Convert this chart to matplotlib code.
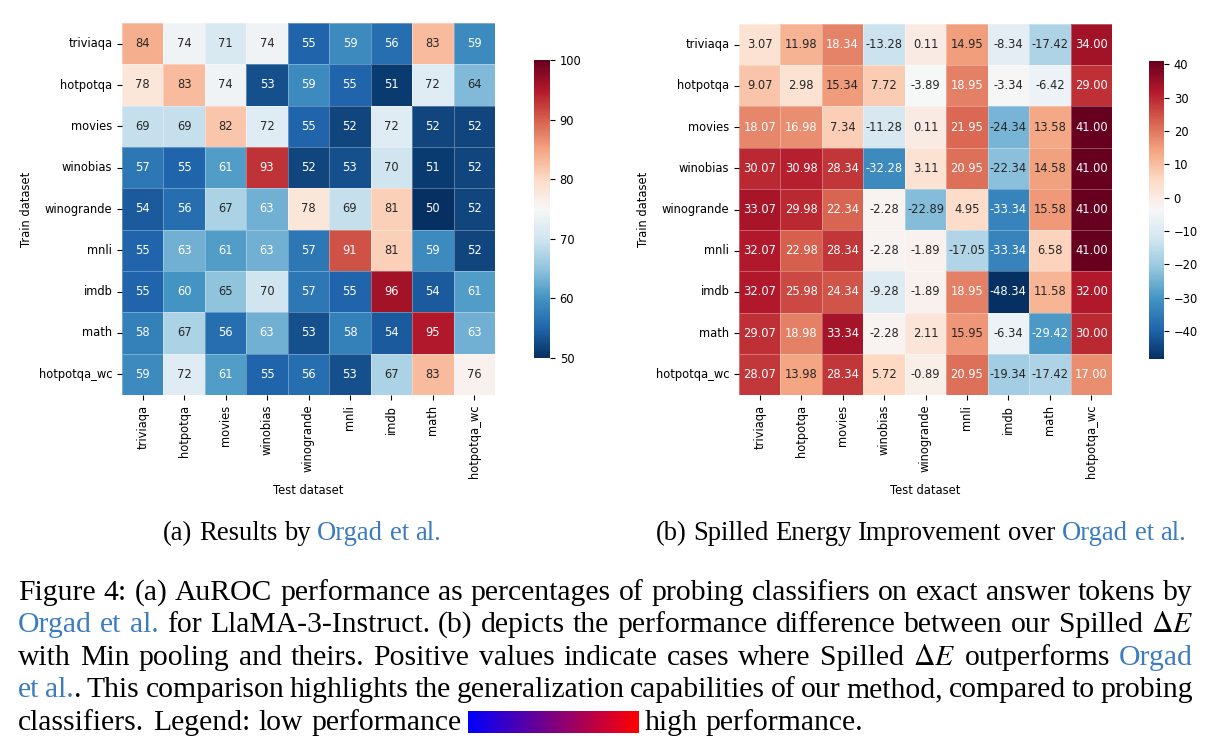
import numpy as np
import matplotlib
matplotlib.use('Agg')
import matplotlib.pyplot as plt
import seaborn as sns
from matplotlib.colors import LinearSegmentedColormap

datasets = ['triviaqa', 'hotpotqa', 'movies', 'winobias', 'winogrande',
            'mnli', 'imdb', 'math', 'hotpotqa_wc']

# AuROC of Orgad et al. (rows = train, cols = test)
orgad_auroc = [
    [84, 74, 71, 74, 55, 59, 56, 83, 59],
    [78, 83, 74, 53, 59, 55, 51, 72, 64],
    [69, 69, 82, 72, 55, 52, 72, 52, 52],
    [57, 55, 61, 93, 52, 53, 70, 51, 52],
    [54, 56, 67, 63, 78, 69, 81, 50, 52],
    [55, 63, 61, 63, 57, 91, 81, 59, 52],
    [55, 60, 65, 70, 57, 55, 96, 54, 61],
    [58, 67, 56, 63, 53, 58, 54, 95, 63],
    [59, 72, 61, 55, 56, 53, 67, 83, 76],
]

# Spilled energy improvement over Orgad et al.
improvement = [
    [3.07, 11.98, 18.34, -13.28, 0.11, 14.95, -8.34, -17.42, 34.00],
    [9.07, 2.98, 15.34, 7.72, -3.89, 18.95, -3.34, -6.42, 29.00],
    [18.07, 16.98, 7.34, -11.28, 0.11, 21.95, -24.34, 13.58, 41.00],
    [30.07, 30.98, 28.34, -32.28, 3.11, 20.95, -22.34, 14.58, 41.00],
    [33.07, 29.98, 22.34, -2.28, -22.89, 4.95, -33.34, 15.58, 41.00],
    [32.07, 22.98, 28.34, -2.28, -1.89, -17.05, -33.34, 6.58, 41.00],
    [32.07, 25.98, 24.34, -9.28, -1.89, 18.95, -48.34, 11.58, 32.00],
    [29.07, 18.98, 33.34, -2.28, 2.11, 15.95, -6.34, -29.42, 30.00],
    [28.07, 13.98, 28.34, 5.72, -0.89, 20.95, -19.34, -17.42, 17.00],
]

W, H = 1222, 755
BLUE = '#3b7bbf'
FS = 8.3
SUB_FS = 19.2
CAP_FS = 21.3
SERIF = 'Liberation Serif'

plt.rcParams['mathtext.fontset'] = 'stix'

fig = plt.figure(figsize=(W / 100, H / 100), dpi=100)


def px_box(x0, y0, x1, y1):
    # pixel box (top-left origin) -> figure fraction rect
    return [x0 / W, 1 - y1 / H, (x1 - x0) / W, (y1 - y0) / H]


def draw_heatmap(data, box, cbox, fmt, vmin=None, vmax=None, ticks=None):
    ax = fig.add_axes(px_box(*box))
    cax = fig.add_axes(px_box(*cbox))
    sns.heatmap(np.array(data), ax=ax, cbar_ax=cax, cmap='RdBu_r',
                vmin=vmin, vmax=vmax, annot=True, fmt=fmt,
                annot_kws={'fontsize': FS},
                linewidths=0.4, linecolor=(1, 1, 1, 0.3),
                xticklabels=datasets, yticklabels=datasets)
    ax.set_xticklabels(datasets, rotation=90, fontsize=FS)
    ax.set_yticklabels(datasets, rotation=0, fontsize=FS)
    ax.set_xlabel('Test dataset', fontsize=FS)
    ax.set_ylabel('Train dataset', fontsize=FS)
    if ticks is not None:
        cax.set_yticks(ticks)
    cax.tick_params(labelsize=FS)
    return ax


draw_heatmap(orgad_auroc, (122, 23, 495, 395), (534, 60, 550, 358), 'd',
             vmin=50, vmax=100, ticks=[50, 60, 70, 80, 90, 100])
draw_heatmap(improvement, (739, 24, 1112, 395), (1149, 61, 1164, 359), '.2f',
             ticks=[-40, -30, -20, -10, 0, 10, 20, 30, 40])

renderer = fig.canvas.get_renderer()


def width_of(text, size):
    t = fig.text(0, 0, text, family=SERIF, fontsize=size)
    w = t.get_window_extent(renderer).width
    t.remove()
    return w


def split_words(segments):
    words = []
    glue = False
    for text, color in segments:
        parts = [text] if text.startswith('$') else text.split(' ')
        for i, p in enumerate(parts):
            if p == '':
                continue
            if i == 0 and glue and words:
                words[-1].append((p, color))
            else:
                words.append([(p, color)])
        glue = not text.endswith(' ')
    return words


def line_layout(segments, size):
    words = split_words(segments)
    widths = [[width_of(p, size) for p, c in word] for word in words]
    space = width_of('x x', size) - width_of('xx', size)
    return words, widths, space


def draw_line(segments, y, x0, x1=None, size=CAP_FS, center=None):
    words, widths, gap = line_layout(segments, size)
    total = sum(sum(ws) for ws in widths)
    if x1 is not None and len(words) > 1:
        gap = (x1 - x0 - total) / (len(words) - 1)
    if center is not None:
        x0 = center - (total + gap * (len(words) - 1)) / 2
    x = x0
    for word, ws in zip(words, widths):
        for (p, c), w in zip(word, ws):
            fig.text(x / W, 1 - y / H, p, color=c, family=SERIF,
                     fontsize=size, ha='left', va='baseline')
            x += w
        x += gap
    return x - gap


# sub captions
draw_line([('(a) Results by ', 'black'), ('Orgad et al.', BLUE)], 540, 0,
          size=SUB_FS, center=302)
draw_line([('(b) Spilled Energy Improvement over ', 'black'),
           ('Orgad et al.', BLUE)], 540, 0, size=SUB_FS, center=921)

caption = [
    [('Figure 4: (a) AuROC performance as percentages of probing classifiers '
      'on exact answer tokens by', 'black')],
    [('Orgad et al.', BLUE),
     (' for LlaMA-3-Instruct. (b) depicts the performance difference between '
      'our Spilled ', 'black'), (r'$\Delta E$', 'black')],
    [('with Min pooling and theirs. Positive values indicate cases where '
      'Spilled ', 'black'), (r'$\Delta E$', 'black'),
     (' outperforms ', 'black'), ('Orgad', BLUE)],
    [('et al.', BLUE), ('. This comparison highlights the generalization '
                        'capabilities of our method, compared to probing', 'black')],
]
baselines = [600, 632, 665, 697]
for segs, yb in zip(caption, baselines):
    draw_line(segs, yb, 18, 1193)

draw_line([('classifiers. Legend: low performance', 'black')], 730, 18, 462)
draw_line([('high performance.', 'black')], 730, 645)

# blue -> red legend swatch
gax = fig.add_axes(px_box(468, 711, 639, 733))
grad = LinearSegmentedColormap.from_list('br', ['#0000ff', '#ff0000'])
gax.imshow(np.linspace(0, 1, 256)[None, :], aspect='auto', cmap=grad)
gax.axis('off')

fig.savefig('out.png', dpi=100)
